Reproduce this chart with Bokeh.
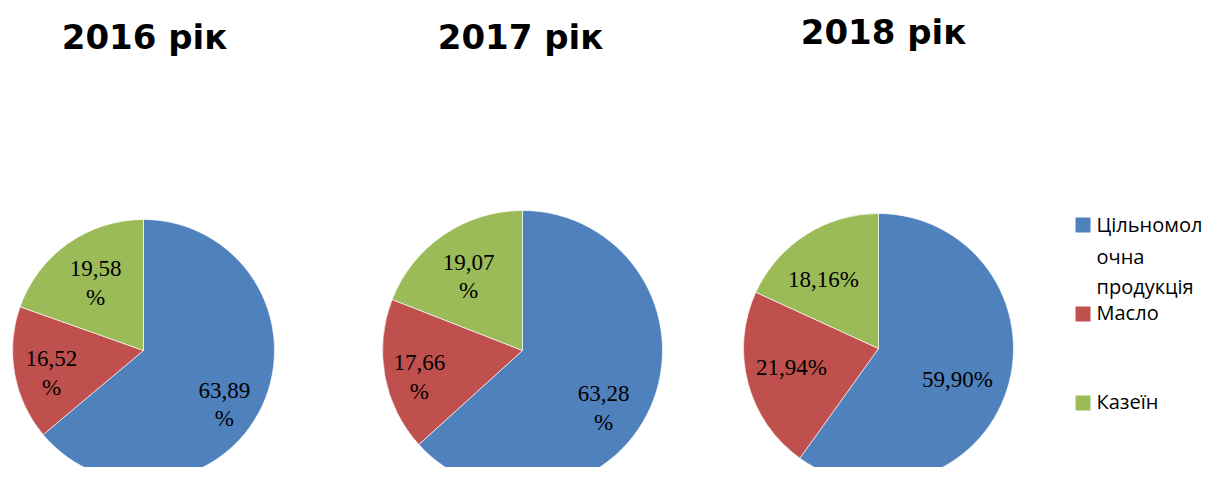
import math
from bokeh.plotting import figure
from bokeh.models import Range1d, ColumnDataSource
from bokeh.core.properties import value
from bokeh.embed import file_html
from bokeh.resources import INLINE

# ---- data ----
years = ["2016 рік", "2017 рік", "2018 рік"]
categories = ["Цільномолочна продукція", "Масло", "Казеїн"]
legend_lines = [["Цільномол", "очна", "продукція"], ["Масло"], ["Казеїн"]]
shares_2016 = [63.89, 16.52, 19.58]
shares_2017 = [63.28, 17.66, 19.07]
shares_2018 = [59.90, 21.94, 18.16]
all_shares = [shares_2016, shares_2017, shares_2018]
colors = ["#4F81BD", "#C0504D", "#9BBB59"]

# ---- layout (pixel-like data units) ----
W, H = 1210, 467
pie_cx = [143, 522, 878]
pie_cy = [117, 117, 119]
pie_r = [131, 140, 135]
label_wrap = [True, True, False]
# label placement: fraction of radius and angle nudge (deg) per slice
label_frac = [[0.743, 0.723, 0.632], [0.71, 0.76, 0.654], [0.63, 0.66, 0.656]]
label_nudge = [[-8.7, 3.5, 0.15], [-11.5, 3.8, 1.8], [-3.9, -2.3, 5.7]]
title_x = [144, 520, 883]
title_y = [431, 431, 436]

p = figure(width=W, height=H, x_range=Range1d(0, W), y_range=Range1d(0, H),
           output_backend="svg", toolbar_location=None, min_border=0)
p.axis.visible = False
p.grid.visible = False
p.outline_line_color = None
p.background_fill_color = "white"
p.border_fill_color = "white"

for i, shares in enumerate(all_shares):
    total = sum(shares)
    starts, ends, lx, ly, lt = [], [], [], [], []
    cum = 0.0
    for j, v in enumerate(shares):
        a0 = math.pi / 2 - 2 * math.pi * cum / total
        cum += v
        a1 = math.pi / 2 - 2 * math.pi * cum / total
        starts.append(a0)
        ends.append(a1)
        mid = (a0 + a1) / 2 + math.radians(label_nudge[i][j])
        rr = pie_r[i] * label_frac[i][j]
        lx.append(pie_cx[i] + rr * math.cos(mid))
        ly.append(pie_cy[i] + rr * math.sin(mid))
        num = f"{v:.2f}".replace(".", ",")
        lt.append(num + ("\n%" if label_wrap[i] else "%"))
    src = ColumnDataSource(dict(start=starts, end=ends, color=colors,
                                x=[pie_cx[i]] * 3, y=[pie_cy[i]] * 3))
    p.wedge(x="x", y="y", radius=pie_r[i], start_angle="start", end_angle="end",
            direction="clock", fill_color="color", line_color="white",
            line_width=0.8, line_alpha=0.8, source=src)
    p.text(x=lx, y=ly, text=lt, text_font=value("Liberation Serif"),
           text_font_size="23px", text_align="center", text_baseline="middle",
           text_line_height=1.15, text_color="black")
    p.text(x=[title_x[i]], y=[title_y[i]], text=[years[i]],
           text_font=value("DejaVu Sans"), text_font_style="bold",
           text_font_size="34px", text_align="center",
           text_baseline="alphabetic", text_color="black")

# ---- legend ----
sq_x = 1082.5
sq_y = [242.5, 153.5, 64.5]
txt_x = 1096
line_baselines = [[243, 211, 181], [155], [66]]
p.rect(x=[sq_x] * 3, y=sq_y, width=15, height=15, fill_color=colors, line_color=None)
for k, lines in enumerate(legend_lines):
    p.text(x=[txt_x] * len(lines), y=line_baselines[k], text=lines,
           text_font=value("Open Sans"), text_font_size="20px",
           text_align="left", text_baseline="alphabetic", text_color="black")

open("out.html", "w").write(file_html(p, INLINE))
